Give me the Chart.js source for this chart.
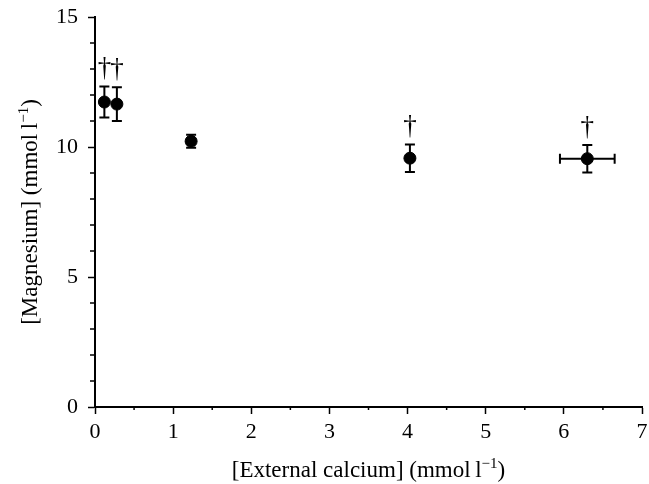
<!DOCTYPE html>
<html>
<head>
<meta charset="utf-8">
<script src="https://cdn.jsdelivr.net/npm/chart.js@4/dist/chart.umd.min.js"></script>
<style>
    html, body { margin: 0; padding: 0; background: #fff; }
    #wrap { width: 649px; height: 484px; }
</style>
</head>
<body>
<div id="wrap"><canvas id="chart" width="649" height="484"></canvas></div>
<script>
// values
const calcium = [0.12, 0.28, 1.23, 4.03, 6.30];
const calciumErr = [0, 0, 0, 0, 0.35];
const magnesium = [11.73, 11.65, 10.22, 9.57, 9.55];
const magnesiumErr = [0.6, 0.65, 0.25, 0.53, 0.53];
const marks = ["\u2020", "\u2020", "", "\u2020", "\u2020"];

const xTicks = [0, 1, 2, 3, 4, 5, 6, 7];
const yTicks = [0, 5, 10, 15];

const xTitle = ["[External calcium] (mmol\u2009l", "\u22121", ")"];
const yTitle = ["[Magnesium] (mmol\u2009l", "\u22121", ")"];

const serif = "'Liberation Serif', 'Times New Roman', serif";

/**
 * Draw a title with a raised exponent, centred on (0, 0).
 */
function drawSupText(ctx, parts, size) {
    const big = size + "px " + serif;
    const small = Math.round(size * 0.65) + "px " + serif;
    ctx.font = big;
    const w0 = ctx.measureText(parts[0]).width;
    const w2 = ctx.measureText(parts[2]).width;
    ctx.font = small;
    const w1 = ctx.measureText(parts[1]).width;
    let x = -(w0 + w1 + w2) / 2;
    ctx.textAlign = "left";
    ctx.textBaseline = "alphabetic";
    ctx.font = big;
    ctx.fillText(parts[0], x, 0);
    x += w0;
    ctx.font = small;
    ctx.fillText(parts[1], x, -size * 0.4);
    x += w1;
    ctx.font = big;
    ctx.fillText(parts[2], x, 0);
}

/**
 * Error bars, significance marks, minor ticks and
 * axis titles, all placed through the chart scales.
 */
const extras = {
    id: "extras",
    beforeDatasetsDraw(chart) {
        const ctx = chart.ctx;
        const xs = chart.scales.x;
        const ys = chart.scales.y;
        ctx.save();
        ctx.strokeStyle = "#000";
        ctx.lineWidth = 2;
        const cap = 5;
        for (let i = 0; i < calcium.length; i++) {
            const px = xs.getPixelForValue(calcium[i]);
            const top = ys.getPixelForValue(magnesium[i] + magnesiumErr[i]);
            const bot = ys.getPixelForValue(magnesium[i] - magnesiumErr[i]);
            ctx.beginPath();
            ctx.moveTo(px, top); ctx.lineTo(px, bot);
            ctx.moveTo(px - cap, top); ctx.lineTo(px + cap, top);
            ctx.moveTo(px - cap, bot); ctx.lineTo(px + cap, bot);
            ctx.stroke();
            if (calciumErr[i] > 0) {
                const py = ys.getPixelForValue(magnesium[i]);
                const l = xs.getPixelForValue(calcium[i] - calciumErr[i]);
                const r = xs.getPixelForValue(calcium[i] + calciumErr[i]);
                ctx.beginPath();
                ctx.moveTo(l, py); ctx.lineTo(r, py);
                ctx.moveTo(l, py - cap); ctx.lineTo(l, py + cap);
                ctx.moveTo(r, py - cap); ctx.lineTo(r, py + cap);
                ctx.stroke();
            }
        }
        ctx.restore();
    },
    afterDraw(chart) {
        const ctx = chart.ctx;
        const xs = chart.scales.x;
        const ys = chart.scales.y;
        const area = chart.chartArea;
        ctx.save();
        ctx.strokeStyle = "#000";
        ctx.lineWidth = 1.5;
        ctx.beginPath();
        for (let v = 0.5; v < 7; v += 1) {
            const px = xs.getPixelForValue(v);
            ctx.moveTo(px, area.bottom); ctx.lineTo(px, area.bottom + 3);
        }
        for (let v = 1; v < 15; v++) {
            if (v % 5 === 0) continue;
            const py = ys.getPixelForValue(v);
            ctx.moveTo(area.left - 5, py); ctx.lineTo(area.left, py);
        }
        ctx.stroke();

        ctx.fillStyle = "#000";
        ctx.font = "27px " + serif;
        ctx.textAlign = "center";
        ctx.textBaseline = "alphabetic";
        for (let i = 0; i < marks.length; i++) {
            if (!marks[i]) continue;
            const px = xs.getPixelForValue(calcium[i]);
            const top = ys.getPixelForValue(magnesium[i] + magnesiumErr[i]);
            ctx.fillText(marks[i], px, top - 10);
        }

        // axis titles
        ctx.save();
        ctx.translate((area.left + area.right) / 2, 477);
        drawSupText(ctx, xTitle, 23);
        ctx.restore();
        ctx.save();
        ctx.translate(37, (area.top + area.bottom) / 2);
        ctx.rotate(-Math.PI / 2);
        drawSupText(ctx, yTitle, 23);
        ctx.restore();
        ctx.restore();
    }
};

function initChart(ctx) {
    new Chart(ctx, {
        type: "scatter",
        data: {
            datasets: [{
                data: calcium.map((x, i) => ({ x: x, y: magnesium[i] })),
                backgroundColor: "#000",
                borderColor: "#000",
                pointRadius: 6,
                pointHoverRadius: 6,
                clip: false
            }]
        },
        options: {
            responsive: false,
            animation: false,
            devicePixelRatio: 1,
            layout: { padding: { top: 17, right: 5, left: 0, bottom: 0 } },
            plugins: {
                legend: { display: false },
                tooltip: { enabled: false }
            },
            scales: {
                x: {
                    type: "linear",
                    min: 0,
                    max: 7,
                    afterBuildTicks: scale => { scale.ticks = xTicks.map(v => ({ value: v })); },
                    afterFit: scale => {
                        scale.height = 77;
                        scale.paddingLeft = 0;
                        scale.paddingRight = 0;
                    },
                    border: { display: true, color: "#000", width: 2 },
                    grid: { drawOnChartArea: false, drawTicks: true, tickLength: 7, tickColor: "#000", tickWidth: 1.5 },
                    ticks: { color: "#000", padding: 5, maxRotation: 0, font: { family: serif, size: 22 } }
                },
                y: {
                    type: "linear",
                    min: 0,
                    max: 15,
                    afterBuildTicks: scale => { scale.ticks = yTicks.map(v => ({ value: v })); },
                    afterFit: scale => {
                        scale.width = 95;
                        scale.paddingTop = 0;
                        scale.paddingBottom = 0;
                    },
                    border: { display: true, color: "#000", width: 2 },
                    grid: { drawOnChartArea: false, drawTicks: true, tickLength: 7, tickColor: "#000", tickWidth: 1.5 },
                    ticks: { color: "#000", padding: 10, font: { family: serif, size: 22 } }
                }
            }
        },
        plugins: [extras]
    });
}

initChart(document.getElementById("chart"));
</script>
</body>
</html>
